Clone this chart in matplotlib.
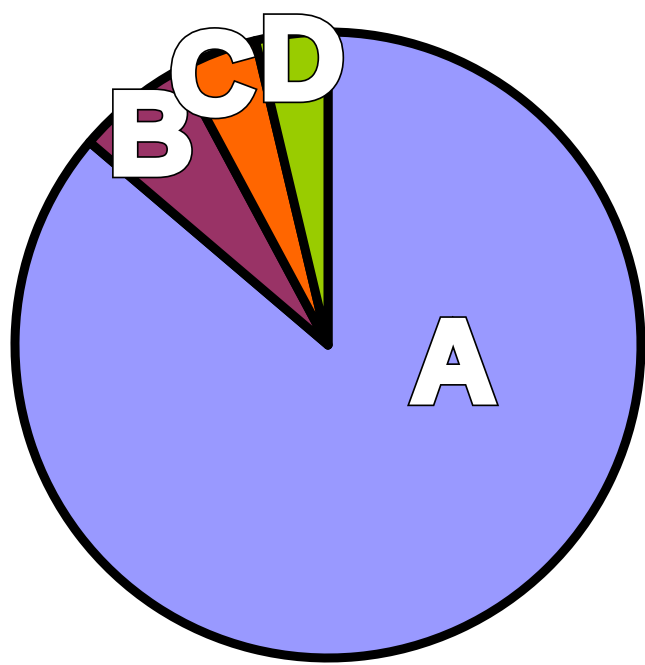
import matplotlib
matplotlib.use("Agg")
import matplotlib.pyplot as plt
import matplotlib.patheffects as pe

categories = ["A", "B", "C", "D"]
values = [310.4, 21.4, 14.8, 13.4]
colors = ["#9999FF", "#993366", "#FF6600", "#99CC00"]
label_x = [0.40, -0.565, -0.37, -0.083]
label_y = [-0.180, 0.548, 0.740, 0.788]

W, H = 645, 665
fig = plt.figure(figsize=(W / 100, H / 100), dpi=100)
cx, cy, r = 328, 345, 313
ax = fig.add_axes([(cx - r) / W, (H - cy - r) / H, 2 * r / W, 2 * r / H])
ax.pie(values, colors=colors, startangle=90, counterclock=False,
       wedgeprops=dict(edgecolor="black", linewidth=6.5, joinstyle="round"))
ax.set_xlim(-1, 1)
ax.set_ylim(-1, 1)
ax.set_aspect("equal")
ax.axis("off")

order = [1, 2, 3, 0]
for i in order:
    ax.text(label_x[i], label_y[i], categories[i], ha="center", va="baseline",
            fontsize=84, fontweight="bold", family="Liberation Sans",
            color="white", zorder=10, clip_on=False,
            path_effects=[pe.Stroke(linewidth=7.0, foreground="black", joinstyle="miter"),
                          pe.Stroke(linewidth=4.6, foreground="white", joinstyle="miter"),
                          pe.Normal()])

fig.savefig("out.png", dpi=100)
